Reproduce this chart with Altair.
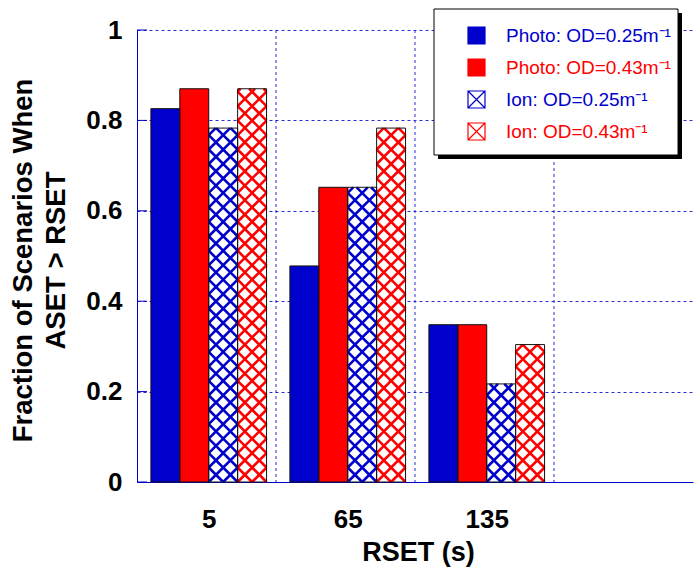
import json
import numpy as np
import pandas as pd
import altair as alt

# ---------------- data ----------------
categories = ["5", "65", "135"]
series = ["Photo: OD=0.25m⁻¹", "Photo: OD=0.43m⁻¹", "Ion: OD=0.25m⁻¹", "Ion: OD=0.43m⁻¹"]
photo_025 = [0.826, 0.478, 0.348]
photo_043 = [0.870, 0.652, 0.348]
ion_025 = [0.783, 0.652, 0.217]
ion_043 = [0.870, 0.783, 0.304]
y_ticks = [0, 0.2, 0.4, 0.6, 0.8, 1.0]

# ---------------- styles / layout ----------------
BLUE = "#0000cc"
RED = "#ff0000"
GRID = "#2a2ad6"
fill_colors = [BLUE, RED, "#ffffff", "#ffffff"]
line_colors = [BLUE, RED, BLUE, RED]
hatched = [False, False, True, True]
FONT = "Liberation Sans"

n_slots = len(categories) + 1
W, H = 556, 452
BAR_W = 0.208
GROUP_START = 0.1
px_per_unit = W / n_slots

values = [photo_025, photo_043, ion_025, ion_043]

bar_rows = []
hatch_rows = []
for i, cat in enumerate(categories):
    for j, s in enumerate(series):
        x0 = i + GROUP_START + j * BAR_W
        x1 = x0 + BAR_W
        v = values[j][i]
        bar_rows.append({"cat": cat, "series": s, "x0": x0, "x1": x1, "v": v})
        if hatched[j]:
            w = BAR_W * px_per_unit
            h = v * H
            p = w / 2.0
            # family with slope +1: y = x + c
            for k in range(-3, int(np.ceil(h / p)) + 2):
                c = k * p
                xa, xb = max(0.0, -c), min(w, h - c)
                if xb - xa > 1e-6:
                    hatch_rows.append({"series": s,
                                       "hx": x0 + xa / px_per_unit, "hy": (xa + c) / H,
                                       "hx2": x0 + xb / px_per_unit, "hy2": (xb + c) / H})
            # family with slope -1: y = -x + c
            for k in range(0, int(np.ceil((h + w) / p)) + 2):
                c = k * p
                xa, xb = max(0.0, c - h), min(w, c)
                if xb - xa > 1e-6:
                    hatch_rows.append({"series": s,
                                       "hx": x0 + xa / px_per_unit, "hy": (c - xa) / H,
                                       "hx2": x0 + xb / px_per_unit, "hy2": (c - xb) / H})

bars_df = pd.DataFrame(bar_rows)
hatch_df = pd.DataFrame(hatch_rows)
bound_df = pd.DataFrame({"b": list(range(1, n_slots))})
tick_df = pd.DataFrame({"t": y_ticks})
label_pos = [i + GROUP_START + 2 * BAR_W for i in range(len(categories))]
label_expr = json.dumps(categories) + "[floor(datum.value)]"

xscale = alt.Scale(domain=[0, n_slots], nice=False, zero=False)
yscale = alt.Scale(domain=[0, 1], nice=False)

x_axis = alt.Axis(values=label_pos, labelExpr=label_expr, ticks=False, grid=False,
                  domainColor=BLUE, domainWidth=1, labelFlush=False,
                  labelFont=FONT, labelFontSize=26, labelFontWeight="bold", labelColor="black",
                  labelPadding=24, title="RSET (s)", titleFont=FONT, titleFontSize=27,
                  titleFontWeight="bold", titleColor="black", titleBaseline="alphabetic",
                  titleY=78, titleX=281)
y_axis = alt.Axis(values=y_ticks, format="~g", ticks=False, grid=True, gridColor=GRID,
                  gridDash=[3, 3], gridWidth=1, domainColor=BLUE, domainWidth=1,
                  labelFont=FONT, labelFontSize=26, labelFontWeight="bold", labelColor="black",
                  labelPadding=15,
                  title=["Fraction of Scenarios When", "ASET > RSET"], titleFont=FONT,
                  titleFontSize=27.5, titleFontWeight="bold", titleColor="black",
                  titleX=-114, titleY=230, titleBaseline="middle", titleAlign="center",
                  titleLineHeight=33)

legend = alt.Legend(
    title=None, orient="none", legendX=330, legendY=-4, padding=0,
    symbolType={"expr": "indexof(datum.value, 'Ion') === 0 ? 'M-1,-1L1,-1L1,1L-1,1Z M-1,-1L1,1 M1,-1L-1,1' : 'square'"},
    symbolSize=289, symbolStrokeWidth=1.2,
    symbolStrokeColor={"expr": "indexof(datum.value, 'Ion') === 0 ? (indexof(datum.value, '0.25') >= 0 ? '%s' : '%s') : 'black'" % (BLUE, RED)},
    symbolOpacity=1,
    labelFont=FONT, labelFontSize=19, labelOffset=20, labelLimit=300,
    labelColor={"expr": "indexof(datum.label, '0.25') >= 0 ? '%s' : '%s'" % (BLUE, RED)},
    rowPadding=9,
)

bars = alt.Chart(bars_df).mark_rect(strokeWidth=0).encode(
    x=alt.X("x0:Q", scale=xscale, axis=x_axis),
    x2="x1:Q",
    y=alt.Y("v:Q", scale=yscale, axis=y_axis),
    y2=alt.datum(0),
    fill=alt.Fill("series:N", scale=alt.Scale(domain=series, range=fill_colors),
                  sort=series, legend=legend),
)

vgrid = alt.Chart(bound_df).mark_rule(color=GRID, strokeDash=[3, 3], strokeWidth=1).encode(
    x=alt.X("b:Q", scale=xscale)
)

hatch = alt.Chart(hatch_df).mark_rule(strokeWidth=2.6, strokeCap="butt").encode(
    x=alt.X("hx:Q", scale=xscale),
    y=alt.Y("hy:Q", scale=yscale),
    x2="hx2:Q",
    y2="hy2:Q",
    stroke=alt.Stroke("series:N", scale=alt.Scale(domain=series, range=line_colors), legend=None),
)

outline = alt.Chart(bars_df).mark_rect(fillOpacity=0, stroke="#111111", strokeWidth=1).encode(
    x=alt.X("x0:Q", scale=xscale),
    x2="x1:Q",
    y=alt.Y("v:Q", scale=yscale),
    y2=alt.datum(0),
)

ticks = alt.Chart(tick_df).mark_rule(color=BLUE, strokeWidth=1).encode(
    y=alt.Y("t:Q", scale=yscale),
    x=alt.value(0),
    x2=alt.value(10),
)

one = alt.Data(values=[{"k": 1}])
shadow = alt.Chart(one).mark_rect(color="black").encode(
    x=alt.value(301), x2=alt.value(545), y=alt.value(-17), y2=alt.value(129)
)
box = alt.Chart(one).mark_rect(fill="white", stroke="black", strokeWidth=1).encode(
    x=alt.value(297), x2=alt.value(541), y=alt.value(-21), y2=alt.value(125)
)

chart = alt.layer(bars, vgrid, hatch, outline, ticks, shadow, box).properties(
    width=W, height=H,
    autosize=alt.AutoSizeParams(type="none"),
    padding={"left": 137, "top": 30, "right": 697 - 137 - W, "bottom": 573 - 30 - H},
    background="white",
).configure_view(strokeWidth=0)

chart.save("out.html", embed_options={"renderer": "svg", "actions": False})
